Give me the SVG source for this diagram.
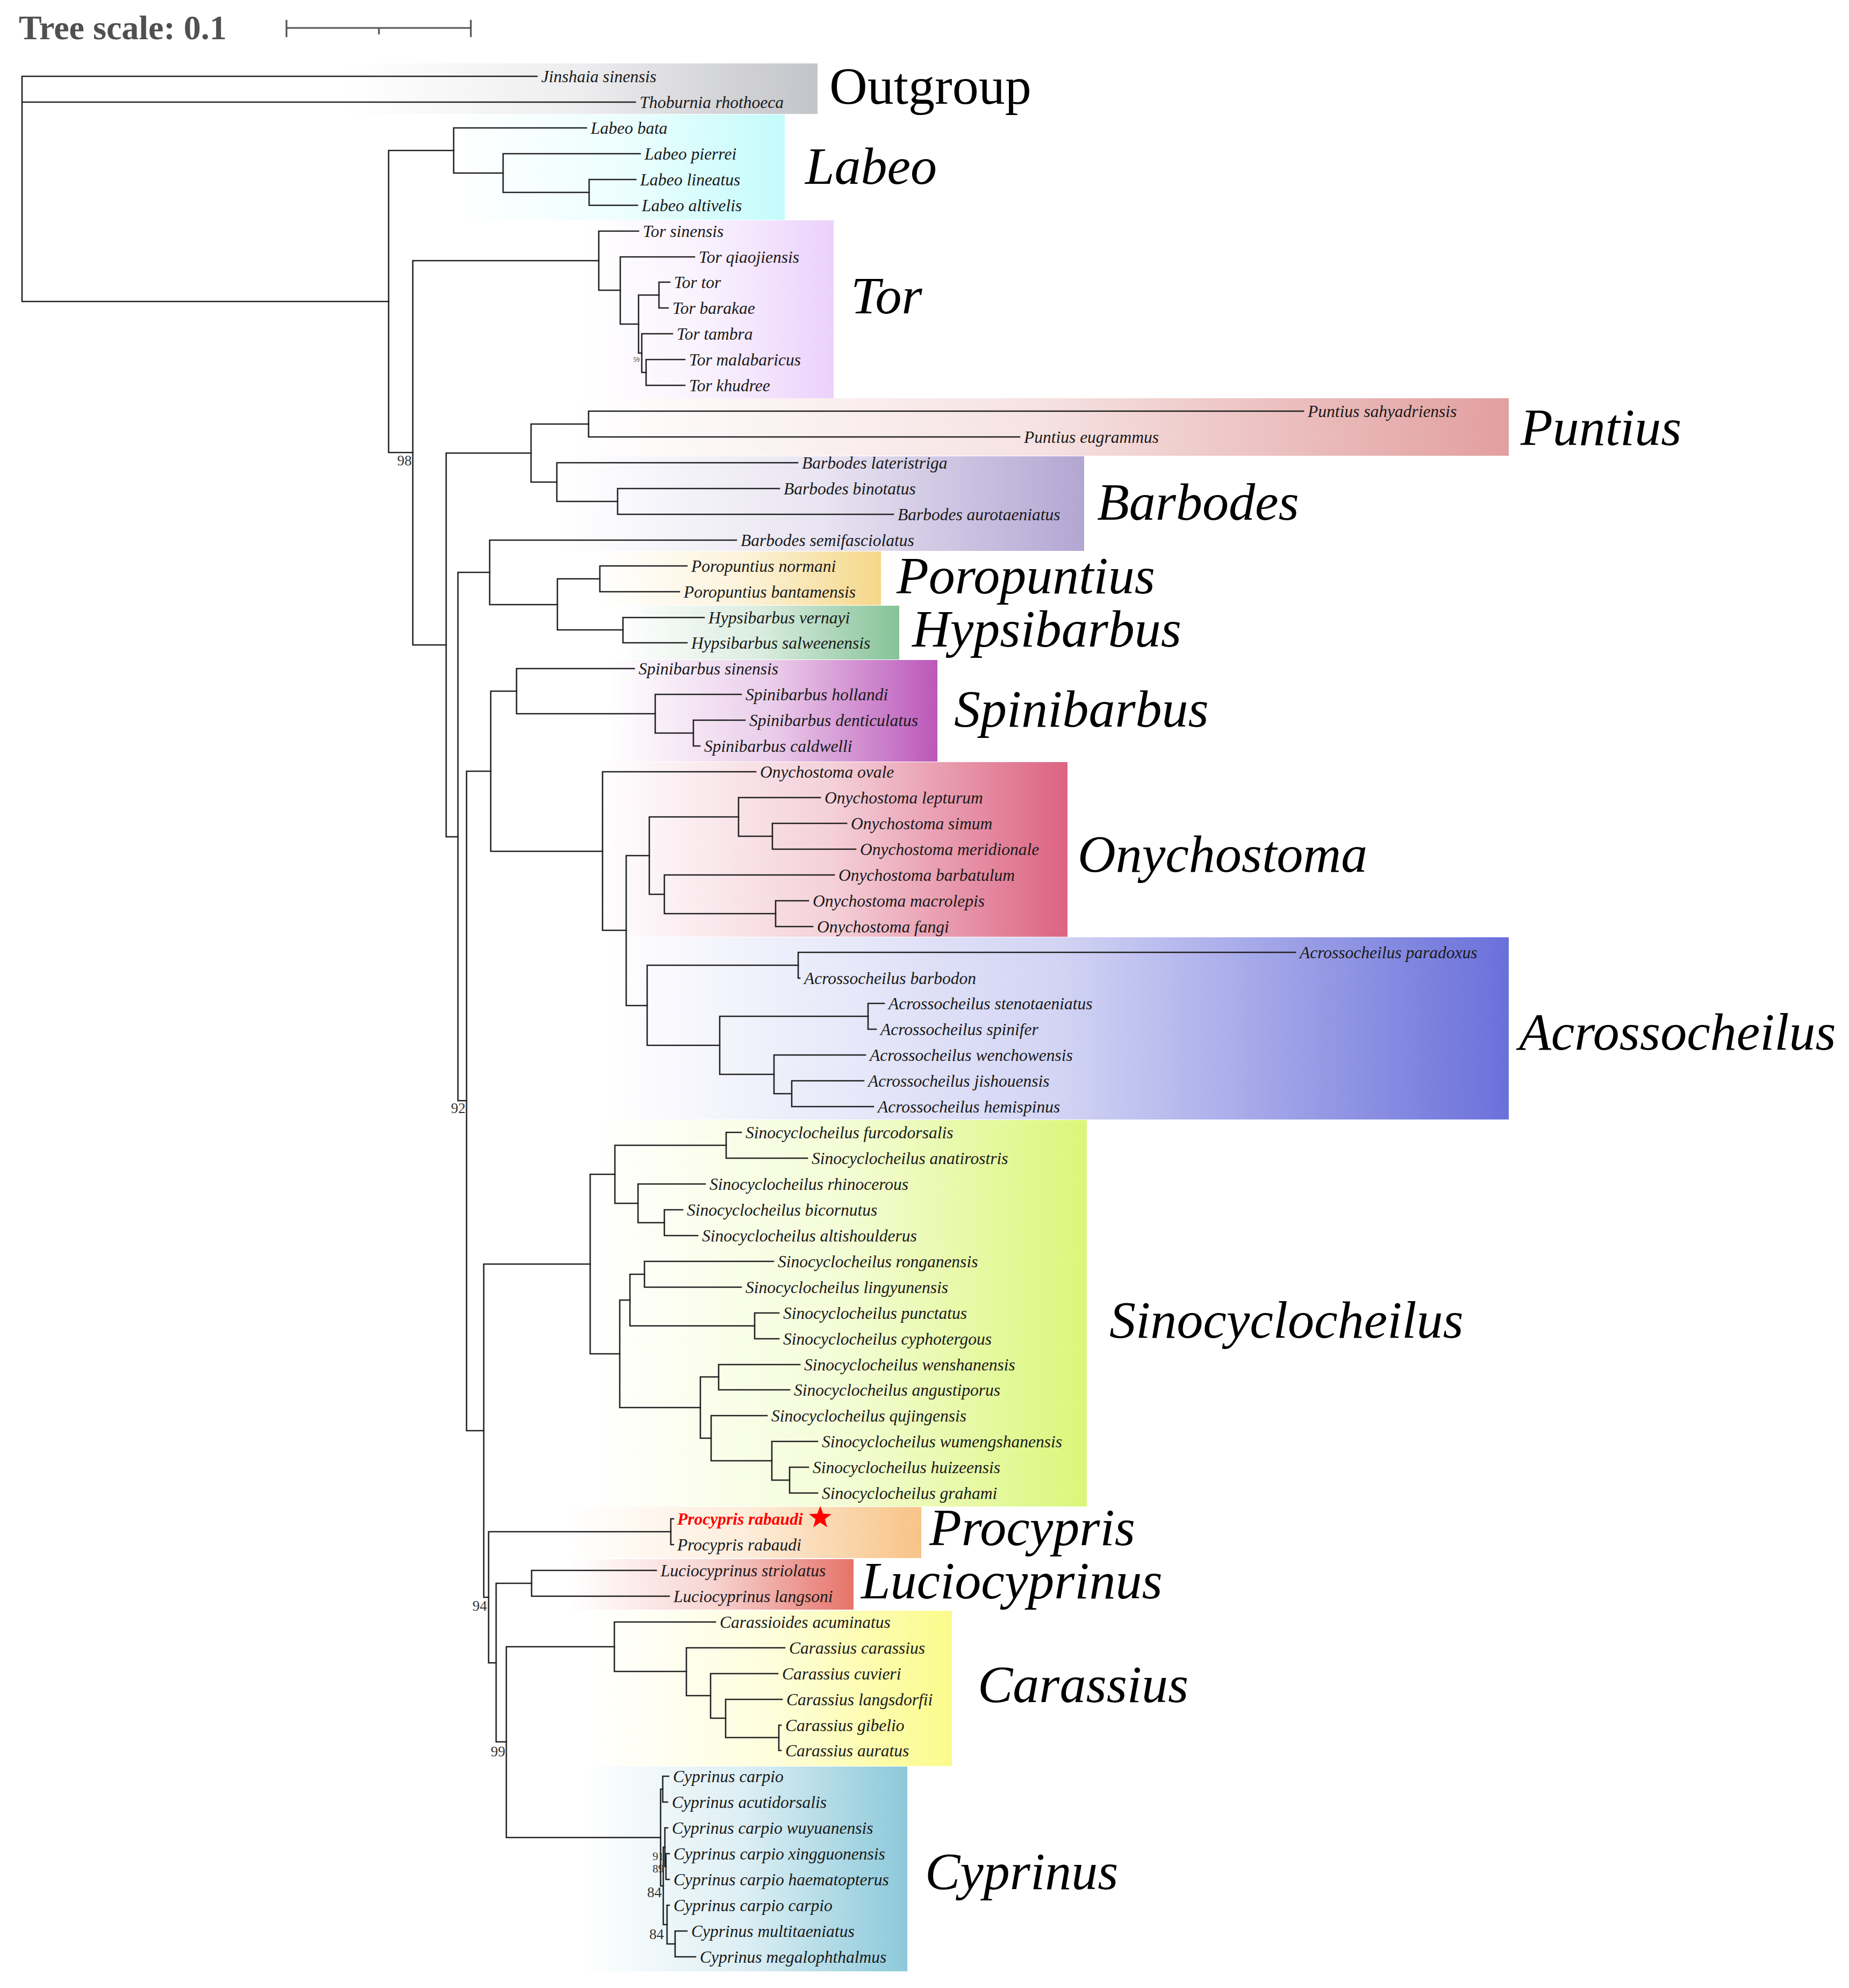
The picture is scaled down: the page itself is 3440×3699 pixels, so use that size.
<svg xmlns="http://www.w3.org/2000/svg" width="3440" height="3699" viewBox="0 0 3440 3699">
<style>
.br{fill:none;stroke:#222;stroke-width:2.6;stroke-linecap:square}
.tip{font-family:'Liberation Serif','Times New Roman',serif;font-style:italic;font-size:31.5px;fill:#1a1a1a}
.clade{font-family:'Liberation Serif','Times New Roman',serif;font-style:italic;font-size:98px;fill:#000}
.bs{font-family:'Liberation Serif','Times New Roman',serif;font-size:27px;fill:#333;text-anchor:end}
</style>
<defs>
<linearGradient id="gOut"><stop offset="0" stop-color="#c3c4c9" stop-opacity="0"/><stop offset="0.5" stop-color="#c3c4c9" stop-opacity="0.3"/><stop offset="1" stop-color="#c3c4c9"/></linearGradient>
<linearGradient id="gLab"><stop offset="0" stop-color="#c4fbfb" stop-opacity="0"/><stop offset="0.5" stop-color="#c4fbfb" stop-opacity="0.3"/><stop offset="1" stop-color="#c4fbfb"/></linearGradient>
<linearGradient id="gTor"><stop offset="0" stop-color="#ebd1fb" stop-opacity="0"/><stop offset="0.5" stop-color="#ebd1fb" stop-opacity="0.3"/><stop offset="1" stop-color="#ebd1fb"/></linearGradient>
<linearGradient id="gPun"><stop offset="0" stop-color="#e29f9f" stop-opacity="0"/><stop offset="0.5" stop-color="#e29f9f" stop-opacity="0.3"/><stop offset="1" stop-color="#e29f9f"/></linearGradient>
<linearGradient id="gBar"><stop offset="0" stop-color="#b3a6d3" stop-opacity="0"/><stop offset="0.5" stop-color="#b3a6d3" stop-opacity="0.3"/><stop offset="1" stop-color="#b3a6d3"/></linearGradient>
<linearGradient id="gPor"><stop offset="0" stop-color="#f6d88a" stop-opacity="0"/><stop offset="0.5" stop-color="#f6d88a" stop-opacity="0.3"/><stop offset="1" stop-color="#f6d88a"/></linearGradient>
<linearGradient id="gHyp"><stop offset="0" stop-color="#86c398" stop-opacity="0"/><stop offset="0.5" stop-color="#86c398" stop-opacity="0.3"/><stop offset="1" stop-color="#86c398"/></linearGradient>
<linearGradient id="gSpi"><stop offset="0" stop-color="#bb58ba" stop-opacity="0"/><stop offset="0.5" stop-color="#bb58ba" stop-opacity="0.3"/><stop offset="1" stop-color="#bb58ba"/></linearGradient>
<linearGradient id="gOny"><stop offset="0" stop-color="#dc6381" stop-opacity="0"/><stop offset="0.5" stop-color="#dc6381" stop-opacity="0.3"/><stop offset="1" stop-color="#dc6381"/></linearGradient>
<linearGradient id="gAcr"><stop offset="0" stop-color="#6a70da" stop-opacity="0"/><stop offset="0.5" stop-color="#6a70da" stop-opacity="0.3"/><stop offset="1" stop-color="#6a70da"/></linearGradient>
<linearGradient id="gSin"><stop offset="0" stop-color="#dbf67a" stop-opacity="0"/><stop offset="0.5" stop-color="#dbf67a" stop-opacity="0.3"/><stop offset="1" stop-color="#dbf67a"/></linearGradient>
<linearGradient id="gPro"><stop offset="0" stop-color="#f8c387" stop-opacity="0"/><stop offset="0.5" stop-color="#f8c387" stop-opacity="0.3"/><stop offset="1" stop-color="#f8c387"/></linearGradient>
<linearGradient id="gLuc"><stop offset="0" stop-color="#e6736a" stop-opacity="0"/><stop offset="0.5" stop-color="#e6736a" stop-opacity="0.3"/><stop offset="1" stop-color="#e6736a"/></linearGradient>
<linearGradient id="gCar"><stop offset="0" stop-color="#fbfb8b" stop-opacity="0"/><stop offset="0.5" stop-color="#fbfb8b" stop-opacity="0.3"/><stop offset="1" stop-color="#fbfb8b"/></linearGradient>
<linearGradient id="gCyp"><stop offset="0" stop-color="#8cc9da" stop-opacity="0"/><stop offset="0.5" stop-color="#8cc9da" stop-opacity="0.3"/><stop offset="1" stop-color="#8cc9da"/></linearGradient>
</defs>
<rect width="3440" height="3699" fill="#fff"/>

<g id="scale">
<text x="35" y="73" font-family="'Liberation Serif','Times New Roman',serif" font-weight="bold" font-size="64" fill="#505050">Tree scale: 0.1</text>
<path d="M533,52 H876 M533,37 V69 M876,37 V69 M705,52 V64" fill="none" stroke="#555" stroke-width="3.2"/>
</g>

<g id="clade-outgroup"><rect x="640" y="118" width="881" height="94" fill="url(#gOut)"/><text x="1543" y="193" class="clade" style="font-style:normal">Outgroup</text></g>
<g id="clade-labeo"><rect x="844" y="213" width="616" height="196" fill="url(#gLab)"/><text x="1498" y="342" class="clade">Labeo</text></g>
<g id="clade-tor"><rect x="1090" y="410" width="461" height="331" fill="url(#gTor)"/><text x="1583" y="583" class="clade">Tor</text></g>
<g id="clade-puntius"><rect x="1060" y="741" width="1747" height="107" fill="url(#gPun)"/><text x="2829" y="828" class="clade">Puntius</text></g>
<g id="clade-barbodes"><rect x="1040" y="849" width="977" height="176" fill="url(#gBar)"/><text x="2041" y="967" class="clade">Barbodes</text></g>
<g id="clade-poropuntius"><rect x="1110" y="1026" width="529" height="100" fill="url(#gPor)"/><text x="1668" y="1104" class="clade">Poropuntius</text></g>
<g id="clade-hypsibarbus"><rect x="1150" y="1127" width="523" height="100" fill="url(#gHyp)"/><text x="1697" y="1203" class="clade">Hypsibarbus</text></g>
<g id="clade-spinibarbus"><rect x="1130" y="1228" width="614" height="189" fill="url(#gSpi)"/><text x="1775" y="1352" class="clade">Spinibarbus</text></g>
<g id="clade-onychostoma"><rect x="1110" y="1418" width="876" height="325" fill="url(#gOny)"/><text x="2005" y="1622" class="clade">Onychostoma</text></g>
<g id="clade-acrossocheilus"><rect x="1130" y="1744" width="1677" height="339" fill="url(#gAcr)"/><text x="2826" y="1953" class="clade">Acrossocheilus</text></g>
<g id="clade-sinocyclocheilus"><rect x="1100" y="2084" width="922" height="719" fill="url(#gSin)"/><text x="2064" y="2489" class="clade">Sinocyclocheilus</text></g>
<g id="clade-procypris"><rect x="1060" y="2804" width="654" height="95" fill="url(#gPro)"/><text x="1729" y="2875" class="clade">Procypris</text></g>
<g id="clade-luciocyprinus"><rect x="1060" y="2901" width="528" height="94" fill="url(#gLuc)"/><text x="1602" y="2974" class="clade">Luciocyprinus</text></g>
<g id="clade-carassius"><rect x="1100" y="2997" width="671" height="289" fill="url(#gCar)"/><text x="1819" y="3167" class="clade">Carassius</text></g>
<g id="clade-cyprinus"><rect x="1080" y="3287" width="608" height="381" fill="url(#gCyp)"/><text x="1721" y="3515" class="clade">Cyprinus</text></g>

<g id="connectors" class="br">
<path class="br" d="M41,142 V561 M41,142 H999 M41,190 H1182 M41,561 H723"/>
<path class="br" d="M723,280 V842 M723,280 H844 M723,842 H768"/>
<path class="br" d="M844,238 V322 M844,238 H1091 M844,322 H936"/>
<path class="br" d="M936,286 V358 M936,286 H1191 M936,358 H1096"/>
<path class="br" d="M1096,334 V382 M1096,334 H1183 M1096,382 H1186"/>
<path class="br" d="M768,485 V1200 M768,485 H1114 M768,1200 H830"/>
<path class="br" d="M1114,430 V540 M1114,430 H1188 M1114,540 H1154"/>
<path class="br" d="M1154,478 V603 M1154,478 H1292 M1154,603 H1188"/>
<path class="br" d="M1188,549 V657 M1188,549 H1226 M1188,657 H1194"/>
<path class="br" d="M1226,525 V573 M1226,525 H1246 M1226,573 H1243"/>
<path class="br" d="M1194,621 V693 M1194,621 H1251 M1194,693 H1202"/>
<path class="br" d="M1202,669 V717 M1202,669 H1274 M1202,717 H1274"/>
<path class="br" d="M830,843 V1557 M830,843 H988 M830,1557 H852"/>
<path class="br" d="M988,789 V897 M988,789 H1095 M988,897 H1036"/>
<path class="br" d="M1095,765 V813 M1095,765 H2425 M1095,813 H1897"/>
<path class="br" d="M1036,861 V933 M1036,861 H1484 M1036,933 H1149"/>
<path class="br" d="M1149,909 V957 M1149,909 H1450 M1149,957 H1662"/>
<path class="br" d="M852,1065 V2048 M852,1065 H911 M852,2048 H868"/>
<path class="br" d="M911,1005 V1125 M911,1005 H1370 M911,1125 H1037"/>
<path class="br" d="M1037,1077 V1172 M1037,1077 H1116 M1037,1172 H1159"/>
<path class="br" d="M1116,1053 V1101 M1116,1053 H1278 M1116,1101 H1264"/>
<path class="br" d="M1159,1149 V1196 M1159,1149 H1310 M1159,1196 H1278"/>
<path class="br" d="M868,1435 V2662 M868,1435 H913 M868,2662 H900"/>
<path class="br" d="M913,1286 V1584 M913,1286 H961 M913,1584 H1121"/>
<path class="br" d="M961,1244 V1328 M961,1244 H1180 M961,1328 H1219"/>
<path class="br" d="M1219,1292 V1364 M1219,1292 H1379 M1219,1364 H1290"/>
<path class="br" d="M1290,1340 V1388 M1290,1340 H1386 M1290,1388 H1302"/>
<path class="br" d="M1121,1436 V1731 M1121,1436 H1406 M1121,1731 H1165"/>
<path class="br" d="M1165,1592 V1871 M1165,1592 H1208 M1165,1871 H1204"/>
<path class="br" d="M1208,1520 V1664 M1208,1520 H1374 M1208,1664 H1236"/>
<path class="br" d="M1374,1484 V1556 M1374,1484 H1526 M1374,1556 H1437"/>
<path class="br" d="M1437,1532 V1580 M1437,1532 H1575 M1437,1580 H1592"/>
<path class="br" d="M1236,1628 V1700 M1236,1628 H1552 M1236,1700 H1443"/>
<path class="br" d="M1443,1676 V1724 M1443,1676 H1504 M1443,1724 H1512"/>
<path class="br" d="M1204,1796 V1945 M1204,1796 H1485 M1204,1945 H1339"/>
<path class="br" d="M1485,1772 V1820 M1485,1772 H2410 M1485,1820 H1488"/>
<path class="br" d="M1339,1891 V1999 M1339,1891 H1615 M1339,1999 H1440"/>
<path class="br" d="M1615,1867 V1915 M1615,1867 H1645 M1615,1915 H1630"/>
<path class="br" d="M1440,1963 V2035 M1440,1963 H1610 M1440,2035 H1473"/>
<path class="br" d="M1473,2011 V2059 M1473,2011 H1607 M1473,2059 H1625"/>
<path class="br" d="M900,2352 V2972 M900,2352 H1098 M900,2972 H909"/>
<path class="br" d="M1098,2185 V2519 M1098,2185 H1144 M1098,2519 H1153"/>
<path class="br" d="M1144,2131 V2239 M1144,2131 H1351 M1144,2239 H1187"/>
<path class="br" d="M1351,2107 V2155 M1351,2107 H1379 M1351,2155 H1502"/>
<path class="br" d="M1187,2203 V2275 M1187,2203 H1312 M1187,2275 H1236"/>
<path class="br" d="M1236,2251 V2299 M1236,2251 H1270 M1236,2299 H1298"/>
<path class="br" d="M1153,2419 V2619 M1153,2419 H1172 M1153,2619 H1303"/>
<path class="br" d="M1172,2371 V2467 M1172,2371 H1199 M1172,2467 H1404"/>
<path class="br" d="M1199,2347 V2395 M1199,2347 H1439 M1199,2395 H1379"/>
<path class="br" d="M1404,2443 V2491 M1404,2443 H1449 M1404,2491 H1449"/>
<path class="br" d="M1303,2562 V2676 M1303,2562 H1337 M1303,2676 H1323"/>
<path class="br" d="M1337,2539 V2586 M1337,2539 H1488 M1337,2586 H1469"/>
<path class="br" d="M1323,2634 V2718 M1323,2634 H1427 M1323,2718 H1436"/>
<path class="br" d="M1436,2682 V2754 M1436,2682 H1521 M1436,2754 H1469"/>
<path class="br" d="M1469,2730 V2778 M1469,2730 H1504 M1469,2778 H1521"/>
<path class="br" d="M909,2850 V3094 M909,2850 H1248 M909,3094 H923"/>
<path class="br" d="M1248,2826 V2874 M1248,2826 H1253 M1248,2874 H1253"/>
<path class="br" d="M923,2946 V3241 M923,2946 H989 M923,3241 H942"/>
<path class="br" d="M989,2922 V2970 M989,2922 H1221 M989,2970 H1245"/>
<path class="br" d="M942,3064 V3419 M942,3064 H1143 M942,3419 H1229"/>
<path class="br" d="M1143,3018 V3110 M1143,3018 H1331 M1143,3110 H1277"/>
<path class="br" d="M1277,3066 V3155 M1277,3066 H1460 M1277,3155 H1322"/>
<path class="br" d="M1322,3114 V3197 M1322,3114 H1447 M1322,3197 H1350"/>
<path class="br" d="M1350,3162 V3233 M1350,3162 H1455 M1350,3233 H1449"/>
<path class="br" d="M1449,3210 V3257 M1449,3210 H1453 M1449,3257 H1453"/>
<path class="br" d="M1229,3329 V3509 M1229,3329 H1233 M1229,3509 H1234"/>
<path class="br" d="M1233,3305 V3353 M1233,3305 H1244 M1233,3353 H1242"/>
<path class="br" d="M1234,3437 V3581 M1234,3437 H1237 M1234,3581 H1241"/>
<path class="br" d="M1237,3401 V3473 M1237,3401 H1242 M1237,3473 H1239"/>
<path class="br" d="M1239,3449 V3497 M1239,3449 H1245 M1239,3497 H1245"/>
<path class="br" d="M1241,3545 V3617 M1241,3545 H1245 M1241,3617 H1256"/>
<path class="br" d="M1256,3593 V3641 M1256,3593 H1278 M1256,3641 H1294"/>
</g>

<g id="support">
<text class="bs" x="766" y="866">98</text>
<text class="bs" x="866" y="2071">92</text>
<text class="bs" x="906" y="2997">94</text>
<text class="bs" x="940" y="3268">99</text>
<text class="bs" x="1235" y="3461" style="font-size:21px">91</text>
<text class="bs" x="1235" y="3484" style="font-size:21px">89</text>
<text class="bs" x="1231" y="3530">84</text>
<text class="bs" x="1235" y="3608">84</text>
<text class="bs" x="1190" y="673" style="font-size:12px">59</text>
</g>

<g id="leaves">
<g id="leaf-1"><text class="tip" x="1007" y="153">Jinshaia sinensis</text></g>
<g id="leaf-2"><text class="tip" x="1190" y="201">Thoburnia rhothoeca</text></g>
<g id="leaf-3"><text class="tip" x="1099" y="249">Labeo bata</text></g>
<g id="leaf-4"><text class="tip" x="1199" y="297">Labeo pierrei</text></g>
<g id="leaf-5"><text class="tip" x="1191" y="345">Labeo lineatus</text></g>
<g id="leaf-6"><text class="tip" x="1194" y="393">Labeo altivelis</text></g>
<g id="leaf-7"><text class="tip" x="1196" y="441">Tor sinensis</text></g>
<g id="leaf-8"><text class="tip" x="1300" y="489">Tor qiaojiensis</text></g>
<g id="leaf-9"><text class="tip" x="1254" y="536">Tor tor</text></g>
<g id="leaf-10"><text class="tip" x="1251" y="584">Tor barakae</text></g>
<g id="leaf-11"><text class="tip" x="1259" y="632">Tor tambra</text></g>
<g id="leaf-12"><text class="tip" x="1282" y="680">Tor malabaricus</text></g>
<g id="leaf-13"><text class="tip" x="1282" y="728">Tor khudree</text></g>
<g id="leaf-14"><text class="tip" x="2433" y="776">Puntius sahyadriensis</text></g>
<g id="leaf-15"><text class="tip" x="1905" y="824">Puntius eugrammus</text></g>
<g id="leaf-16"><text class="tip" x="1492" y="872">Barbodes lateristriga</text></g>
<g id="leaf-17"><text class="tip" x="1458" y="920">Barbodes binotatus</text></g>
<g id="leaf-18"><text class="tip" x="1670" y="968">Barbodes aurotaeniatus</text></g>
<g id="leaf-19"><text class="tip" x="1378" y="1016">Barbodes semifasciolatus</text></g>
<g id="leaf-20"><text class="tip" x="1286" y="1064">Poropuntius normani</text></g>
<g id="leaf-21"><text class="tip" x="1272" y="1112">Poropuntius bantamensis</text></g>
<g id="leaf-22"><text class="tip" x="1318" y="1160">Hypsibarbus vernayi</text></g>
<g id="leaf-23"><text class="tip" x="1286" y="1207">Hypsibarbus salweenensis</text></g>
<g id="leaf-24"><text class="tip" x="1188" y="1255">Spinibarbus sinensis</text></g>
<g id="leaf-25"><text class="tip" x="1387" y="1303">Spinibarbus hollandi</text></g>
<g id="leaf-26"><text class="tip" x="1394" y="1351">Spinibarbus denticulatus</text></g>
<g id="leaf-27"><text class="tip" x="1310" y="1399">Spinibarbus caldwelli</text></g>
<g id="leaf-28"><text class="tip" x="1414" y="1447">Onychostoma ovale</text></g>
<g id="leaf-29"><text class="tip" x="1534" y="1495">Onychostoma lepturum</text></g>
<g id="leaf-30"><text class="tip" x="1583" y="1543">Onychostoma simum</text></g>
<g id="leaf-31"><text class="tip" x="1600" y="1591">Onychostoma meridionale</text></g>
<g id="leaf-32"><text class="tip" x="1560" y="1639">Onychostoma barbatulum</text></g>
<g id="leaf-33"><text class="tip" x="1512" y="1687">Onychostoma macrolepis</text></g>
<g id="leaf-34"><text class="tip" x="1520" y="1735">Onychostoma fangi</text></g>
<g id="leaf-35"><text class="tip" x="2418" y="1783">Acrossocheilus paradoxus</text></g>
<g id="leaf-36"><text class="tip" x="1496" y="1831">Acrossocheilus barbodon</text></g>
<g id="leaf-37"><text class="tip" x="1653" y="1878">Acrossocheilus stenotaeniatus</text></g>
<g id="leaf-38"><text class="tip" x="1638" y="1926">Acrossocheilus spinifer</text></g>
<g id="leaf-39"><text class="tip" x="1618" y="1974">Acrossocheilus wenchowensis</text></g>
<g id="leaf-40"><text class="tip" x="1615" y="2022">Acrossocheilus jishouensis</text></g>
<g id="leaf-41"><text class="tip" x="1633" y="2070">Acrossocheilus hemispinus</text></g>
<g id="leaf-42"><text class="tip" x="1387" y="2118">Sinocyclocheilus furcodorsalis</text></g>
<g id="leaf-43"><text class="tip" x="1510" y="2166">Sinocyclocheilus anatirostris</text></g>
<g id="leaf-44"><text class="tip" x="1320" y="2214">Sinocyclocheilus rhinocerous</text></g>
<g id="leaf-45"><text class="tip" x="1278" y="2262">Sinocyclocheilus bicornutus</text></g>
<g id="leaf-46"><text class="tip" x="1306" y="2310">Sinocyclocheilus altishoulderus</text></g>
<g id="leaf-47"><text class="tip" x="1447" y="2358">Sinocyclocheilus ronganensis</text></g>
<g id="leaf-48"><text class="tip" x="1387" y="2406">Sinocyclocheilus lingyunensis</text></g>
<g id="leaf-49"><text class="tip" x="1457" y="2454">Sinocyclocheilus punctatus</text></g>
<g id="leaf-50"><text class="tip" x="1457" y="2502">Sinocyclocheilus cyphotergous</text></g>
<g id="leaf-51"><text class="tip" x="1496" y="2550">Sinocyclocheilus wenshanensis</text></g>
<g id="leaf-52"><text class="tip" x="1477" y="2597">Sinocyclocheilus angustiporus</text></g>
<g id="leaf-53"><text class="tip" x="1435" y="2645">Sinocyclocheilus qujingensis</text></g>
<g id="leaf-54"><text class="tip" x="1529" y="2693">Sinocyclocheilus wumengshanensis</text></g>
<g id="leaf-55"><text class="tip" x="1512" y="2741">Sinocyclocheilus huizeensis</text></g>
<g id="leaf-56"><text class="tip" x="1529" y="2789">Sinocyclocheilus grahami</text></g>
<g id="leaf-57"><text class="tip" x="1260" y="2837" style="fill:#ff0000;font-weight:bold">Procypris rabaudi</text><polygon points="1526,2802 1531.4,2816.6 1546.9,2817.2 1534.7,2826.8 1538.9,2841.8 1526,2833.1 1513.1,2841.8 1517.3,2826.8 1505.1,2817.2 1520.6,2816.6" fill="#ff0000"/></g>
<g id="leaf-58"><text class="tip" x="1260" y="2885">Procypris rabaudi</text></g>
<g id="leaf-59"><text class="tip" x="1229" y="2933">Luciocyprinus striolatus</text></g>
<g id="leaf-60"><text class="tip" x="1253" y="2981">Luciocyprinus langsoni</text></g>
<g id="leaf-61"><text class="tip" x="1339" y="3029">Carassioides acuminatus</text></g>
<g id="leaf-62"><text class="tip" x="1468" y="3077">Carassius carassius</text></g>
<g id="leaf-63"><text class="tip" x="1455" y="3125">Carassius cuvieri</text></g>
<g id="leaf-64"><text class="tip" x="1463" y="3173">Carassius langsdorfii</text></g>
<g id="leaf-65"><text class="tip" x="1461" y="3221">Carassius gibelio</text></g>
<g id="leaf-66"><text class="tip" x="1461" y="3268">Carassius auratus</text></g>
<g id="leaf-67"><text class="tip" x="1252" y="3316">Cyprinus carpio</text></g>
<g id="leaf-68"><text class="tip" x="1250" y="3364">Cyprinus acutidorsalis</text></g>
<g id="leaf-69"><text class="tip" x="1250" y="3412">Cyprinus carpio wuyuanensis</text></g>
<g id="leaf-70"><text class="tip" x="1253" y="3460">Cyprinus carpio xingguonensis</text></g>
<g id="leaf-71"><text class="tip" x="1253" y="3508">Cyprinus carpio haematopterus</text></g>
<g id="leaf-72"><text class="tip" x="1253" y="3556">Cyprinus carpio carpio</text></g>
<g id="leaf-73"><text class="tip" x="1286" y="3604">Cyprinus multitaeniatus</text></g>
<g id="leaf-74"><text class="tip" x="1302" y="3652">Cyprinus megalophthalmus</text></g>
</g>
</svg>
